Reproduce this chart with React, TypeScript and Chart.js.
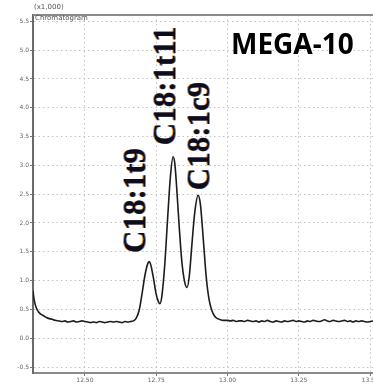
import React, { useEffect, useRef } from "react";
import { Chart, registerables } from "chart.js";

Chart.register(...registerables);

const retentionTimes: number[] = [
  12.318, 12.321, 12.325, 12.33, 12.337, 12.345, 12.355, 12.365, 12.375, 12.385, 12.395,
  12.41, 12.42, 12.43, 12.44, 12.45, 12.46, 12.47, 12.48, 12.49, 12.5,
  12.51, 12.52, 12.53, 12.54, 12.55, 12.56, 12.57, 12.58, 12.59, 12.6,
  12.61, 12.62, 12.63, 12.64, 12.65, 12.66, 12.67, 12.68, 12.69, 12.7,
  12.71, 12.72, 12.725, 12.73, 12.74, 12.75, 12.758, 12.763, 12.77, 12.78,
  12.79, 12.8, 12.809, 12.815, 12.82, 12.83, 12.84, 12.85, 12.858, 12.866,
  12.875, 12.885, 12.897, 12.905, 12.915, 12.925, 12.935, 12.945, 12.955, 12.965,
  12.975, 12.985, 12.99,
  13.0, 13.01, 13.02, 13.03, 13.04, 13.05, 13.06, 13.07, 13.08, 13.09,
  13.1, 13.11, 13.12, 13.13, 13.14, 13.15, 13.16, 13.17, 13.18, 13.19,
  13.2, 13.21, 13.22, 13.23, 13.24, 13.25, 13.26, 13.27, 13.28, 13.29,
  13.3, 13.31, 13.32, 13.33, 13.34, 13.35, 13.36, 13.37, 13.38, 13.39,
  13.4, 13.41, 13.42, 13.43, 13.44, 13.45, 13.46, 13.47, 13.48, 13.49,
  13.5, 13.51,
];

const intensities: number[] = [
  0.82, 0.7, 0.6, 0.52, 0.46, 0.42, 0.39, 0.36, 0.34, 0.33, 0.31,
  0.3, 0.29, 0.3, 0.28, 0.29, 0.3, 0.28, 0.29, 0.3, 0.29,
  0.28, 0.27, 0.28, 0.27, 0.29, 0.28, 0.27, 0.28, 0.29, 0.28,
  0.29, 0.28, 0.27, 0.29, 0.28, 0.29, 0.3, 0.35, 0.48, 0.76,
  1.08, 1.29, 1.33, 1.29, 1.05, 0.76, 0.63, 0.6, 0.74, 1.28,
  2.08, 2.82, 3.15, 3.04, 2.74, 1.98, 1.32, 0.97, 0.88, 1.08,
  1.62, 2.18, 2.48, 2.32, 1.72, 1.08, 0.68, 0.48, 0.38, 0.34,
  0.32, 0.31, 0.31,
  0.31, 0.3, 0.31, 0.29, 0.3, 0.3, 0.29, 0.31, 0.3, 0.29,
  0.3, 0.28, 0.3, 0.29, 0.31, 0.29, 0.28, 0.3, 0.29, 0.28,
  0.3, 0.29, 0.3, 0.31, 0.29, 0.3, 0.29, 0.28, 0.3, 0.29,
  0.31, 0.3, 0.29, 0.3, 0.32, 0.3, 0.29, 0.31, 0.3, 0.29,
  0.3, 0.31, 0.29, 0.3, 0.28, 0.3, 0.29, 0.3, 0.29, 0.28,
  0.29, 0.3,
];

const xTicks: number[] = [12.5, 12.75, 13.0, 13.25, 13.5];
const yTicks: number[] = [-0.5, 0, 0.5, 1.0, 1.5, 2.0, 2.5, 3.0, 3.5, 4.0, 4.5, 5.0, 5.5];

const peakNames: string[] = ["C18:1t9", "C18:1t11", "C18:1c9"];
const peakLabelX: number[] = [12.684, 12.788, 12.907];
const peakLabelY: number[] = [1.48, 3.35, 2.57];

const titleText = "MEGA-10";
const scaleText = "(x1,000)";
const panelText = "Chromatogram";

const annotationPlugin = {
  id: "annotations",
  afterDraw(chart: any) {
    const { ctx, chartArea, scales } = chart;
    ctx.save();
    // top frame line
    ctx.strokeStyle = "#8a8a8a";
    ctx.lineWidth = 2;
    ctx.beginPath();
    ctx.moveTo(chartArea.left, chartArea.top);
    ctx.lineTo(chartArea.right, chartArea.top);
    ctx.stroke();

    // header texts
    ctx.fillStyle = "#555";
    ctx.font = "7px 'DejaVu Sans'";
    ctx.textAlign = "left";
    ctx.textBaseline = "alphabetic";
    ctx.fillText(scaleText, chartArea.left + 1, 9);
    ctx.fillText(panelText, chartArea.left + 2, 20);

    // title
    ctx.fillStyle = "#000";
    ctx.font = "bold 28px 'Noto Sans'";
    ctx.fillText(titleText, 231, 54);

    // peak labels
    ctx.font = "bold 31px 'Liberation Serif'";
    ctx.textAlign = "left";
    ctx.textBaseline = "middle";
    for (let i = 0; i < peakNames.length; i++) {
      const px = scales.x.getPixelForValue(peakLabelX[i]);
      const py = scales.y.getPixelForValue(peakLabelY[i]);
      ctx.save();
      ctx.translate(px, py);
      ctx.rotate(-Math.PI / 2);
      ctx.fillStyle = "rgba(225,140,45,0.95)";
      ctx.fillText(peakNames[i], 0, -1.3);
      ctx.fillStyle = "rgba(40,90,170,0.7)";
      ctx.fillText(peakNames[i], 0, 0.9);
      ctx.fillStyle = "#0d0d1e";
      ctx.fillText(peakNames[i], 0, 0);
      ctx.restore();
    }
    ctx.restore();
  },
};

export default function App() {
  const canvasRef = useRef<HTMLCanvasElement | null>(null);

  useEffect(() => {
    document.body.style.margin = "0";
    const canvas = canvasRef.current;
    if (!canvas) return;
    const points = retentionTimes.map((t, i) => ({ x: t, y: intensities[i] }));
    const chart = new Chart(canvas, {
      type: "line",
      data: {
        datasets: [
          {
            data: points,
            borderColor: "#1c1c1c",
            borderWidth: 1.6,
            pointRadius: 0,
            cubicInterpolationMode: "monotone",
            fill: false,
          },
        ],
      },
      options: {
        animation: false,
        responsive: false,
        maintainAspectRatio: false,
        devicePixelRatio: 1,
        layout: { padding: { left: 0, top: 15, right: 0, bottom: 0 } },
        plugins: { legend: { display: false }, tooltip: { enabled: false } },
        scales: {
          x: {
            type: "linear",
            min: 12.318,
            max: 13.51,
            afterBuildTicks: (scale: any) => {
              scale.ticks = xTicks.map((v) => ({ value: v }));
            },
            afterFit: (scale: any) => {
              scale.height = 11;
              scale.paddingLeft = 0;
              scale.paddingRight = 0;
            },
            ticks: {
              color: "#666",
              font: { size: 6, family: "'DejaVu Sans'" },
              padding: 1,
              maxRotation: 0,
              autoSkip: false,
              callback: (v: any) => Number(v).toFixed(2),
            },
            grid: {
              color: "#c2c2c2",
              lineWidth: 1,
              drawTicks: true,
              tickLength: 3,
              tickColor: "#777",
            },
            border: { display: true, color: "#8a8a8a", width: 2, dash: [1.5, 3] },
          },
          y: {
            type: "linear",
            min: -0.604,
            max: 5.61,
            afterBuildTicks: (scale: any) => {
              scale.ticks = yTicks.map((v) => ({ value: v }));
            },
            afterFit: (scale: any) => {
              scale.width = 33;
              scale.paddingTop = 0;
              scale.paddingBottom = 0;
            },
            ticks: {
              color: "#666",
              font: { size: 6, family: "'DejaVu Sans'" },
              padding: 1,
              autoSkip: false,
              callback: (v: any) => Number(v).toFixed(1),
            },
            grid: {
              color: "#c2c2c2",
              lineWidth: 1,
              drawTicks: true,
              tickLength: 3,
              tickColor: "#777",
            },
            border: { display: true, color: "#6a6a6a", width: 2, dash: [1.5, 3] },
          },
        },
      },
      plugins: [annotationPlugin],
    } as any);
    return () => chart.destroy();
  }, []);

  return (
    <div style={{ position: "fixed", left: 0, top: 0, width: 373, height: 384, background: "#fff" }}>
      <canvas ref={canvasRef} width={373} height={384} style={{ display: "block" }} />
    </div>
  );
}
